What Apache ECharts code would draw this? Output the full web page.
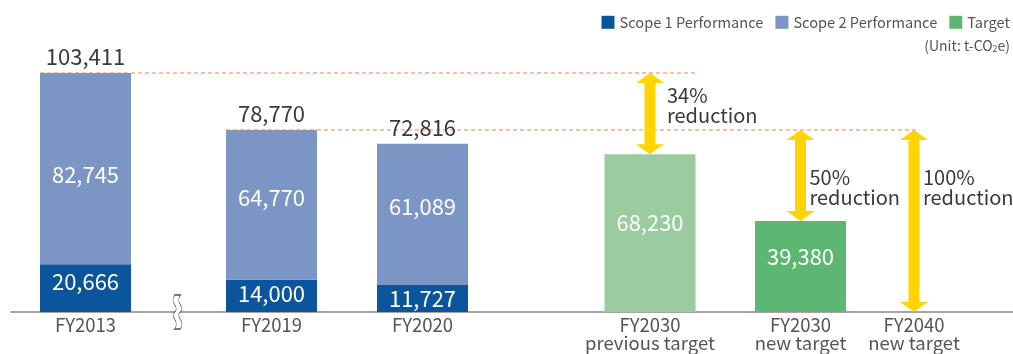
<!DOCTYPE html>
<html>
<head>
<meta charset="utf-8">
<style>
  html, body { margin: 0; padding: 0; background: #fff; }
  #chart { width: 1013px; height: 354px; }
</style>
<script src="https://cdn.jsdelivr.net/npm/echarts@6/dist/echarts.min.js"></script>
</head>
<body>
<div id="chart"></div>
<script>
// Category names (x axis) and emission values (t-CO2e)
const categories = ['FY2013', 'FY2019', 'FY2020', 'FY2030\nprevious target', 'FY2030\nnew target', 'FY2040\nnew target'];
const scope1 = [20666, 14000, 11727];
const scope2 = [82745, 64770, 61089];
const totals = [103411, 78770, 72816];
const targets = [68230, 39380];
// Reduction arrows: [category index, from value, to value]
const reductions = [[3, 103411, 68230], [4, 78770, 39380], [5, 78770, 0]];
const reductionText = ['34%\nreduction', '50%\nreduction', '100%\nreduction'];

// Layout: horizontal position of each category along the x axis, bar width, label offsets
const xPos = [74.5, 260.5, 411.5, 639, 789.5, 903];
const breakX = 166.5;
const barW = 91;
const reductionLabelOffset = [[17, 32], [9, 57], [9, 57]];
const scope1LabelDy = [-6, -2, 0];
const scope2LabelDy = [6, -7, -8];
const targetLabelDy = [-11, -10];

const C_S1 = '#0b559c', C_S2 = '#7b95c5', C_T_OLD = '#9acc9f', C_T_NEW = '#5db773';
const C_ARROW = '#ffd400', C_DASH = '#f2823f', C_TEXT = '#3a3a3a';
const FONT = '"Noto Sans CJK JP", "Noto Sans", sans-serif';
const fmt = v => v.toLocaleString('en-US');

const chart = echarts.init(document.getElementById('chart'));

// stacked segment: data item = [x, base value, top value, labelled value]
const segmentRenderer = (color, dyList) => (params, api) => {
  const x = api.value(0);
  const p0 = api.coord([x, api.value(1)]);
  const p1 = api.coord([x, api.value(2)]);
  const dy = dyList[params.dataIndex] || 0;
  return {
    type: 'group',
    children: [
      { type: 'rect', shape: { x: p0[0] - barW / 2, y: p1[1], width: barW, height: p0[1] - p1[1] }, style: { fill: color } },
      {
        type: 'text',
        style: {
          text: fmt(api.value(3)), x: p0[0], y: (p0[1] + p1[1]) / 2 + dy,
          fill: '#fff', font: '22px ' + FONT, align: 'center', verticalAlign: 'middle'
        }
      }
    ]
  };
};

const dashed = (from, x0, x1) => ({
  type: 'line', silent: true, symbol: 'none', z: 5,
  lineStyle: { color: C_DASH, width: 1, type: [4, 3], opacity: 1 },
  data: [[x0, from], [x1, from]]
});

chart.setOption({
  animation: false,
  textStyle: { fontFamily: FONT },
  title: {
    right: -2, top: 33,
    text: '(Unit: t-CO{sub|2}e)',
    textStyle: {
      fontFamily: FONT, fontSize: 14, fontWeight: 'normal', color: '#555',
      rich: { sub: { fontSize: 9, verticalAlign: 'bottom', padding: [6, 0, 0, 0], color: '#555', fontFamily: FONT } }
    }
  },
  legend: {
    right: -2, top: 10,
    icon: 'rect', itemWidth: 13, itemHeight: 13, itemGap: 12,
    textStyle: { fontSize: 14.6, color: '#555', fontFamily: FONT },
    data: ['Scope 1 Performance', 'Scope 2 Performance', 'Target']
  },
  grid: { left: 11, right: 0, top: 0, bottom: 42 },
  xAxis: {
    type: 'value', min: 0, max: 1002,
    splitLine: { show: false },
    axisTick: { show: false },
    axisLine: { show: true, lineStyle: { color: '#888', width: 1.5 } },
    axisLabel: {
      customValues: xPos,
      formatter: v => categories[xPos.indexOf(v)] || '',
      color: '#555', fontSize: 18.5, lineHeight: 18, margin: 4,
      verticalAlign: 'top'
    }
  },
  yAxis: {
    type: 'value', min: 0, max: 135000, show: false,
    splitLine: { show: false }
  },
  series: [
    {
      name: 'Scope 1 Performance', type: 'custom', clip: false,
      itemStyle: { color: C_S1 },
      renderItem: segmentRenderer(C_S1, scope1LabelDy),
      data: scope1.map((v, i) => [xPos[i], 0, v, v])
    },
    {
      name: 'Scope 2 Performance', type: 'custom', clip: false,
      itemStyle: { color: C_S2 },
      renderItem: segmentRenderer(C_S2, scope2LabelDy),
      data: scope2.map((v, i) => [xPos[i], scope1[i], scope1[i] + v, v])
    },
    {
      name: 'Target', type: 'custom', clip: false,
      itemStyle: { color: C_T_NEW },
      renderItem: (params, api) => segmentRenderer(params.dataIndex === 0 ? C_T_OLD : C_T_NEW, targetLabelDy)(params, api),
      data: targets.map((v, i) => [xPos[3 + i], 0, v, v])
    },
    {
      // totals above the performance bars
      type: 'scatter', silent: true, symbolSize: 0, z: 6,
      itemStyle: { opacity: 1 },
      label: { show: true, position: 'top', distance: 5, color: C_TEXT, fontSize: 22, formatter: p => fmt(p.value[1]) },
      data: totals.map((v, i) => [xPos[i], v])
    },
    dashed(totals[0], xPos[0] - barW / 2, xPos[3] + barW / 2),
    dashed(totals[1], xPos[1] - barW / 2, xPos[5] + 4),
    {
      // double-headed reduction arrows with their captions
      type: 'custom', silent: true, z: 7, clip: false,
      data: reductions.map((r, i) => [xPos[r[0]], r[1], r[2], i]),
      renderItem: (params, api) => {
        const x = api.value(0);
        const top = api.coord([x, api.value(1)]);
        const bot = api.coord([x, api.value(2)]);
        const idx = api.value(3);
        const cx = top[0], y0 = top[1], y1 = bot[1];
        const hw = 14, hh = 10, sw = 5.5;
        const pts = [
          [cx, y0], [cx + hw, y0 + hh], [cx + sw, y0 + hh], [cx + sw, y1 - hh], [cx + hw, y1 - hh],
          [cx, y1], [cx - hw, y1 - hh], [cx - sw, y1 - hh], [cx - sw, y0 + hh], [cx - hw, y0 + hh]
        ];
        const off = reductionLabelOffset[idx];
        return {
          type: 'group',
          children: [
            { type: 'polygon', shape: { points: pts }, style: { fill: C_ARROW } },
            {
              type: 'text',
              style: {
                text: reductionText[idx], x: cx + off[0], y: y0 + off[1],
                fill: C_TEXT, font: '20px ' + FONT, lineHeight: 20,
                verticalAlign: 'middle', align: 'left'
              }
            }
          ]
        };
      }
    },
    {
      // axis break mark between FY2013 and FY2019
      type: 'scatter', silent: true, z: 8,
      symbol: 'path://M4,0 C0,10 8,14 4,20 C0,26 8,30 4,40 L8,40 C12,30 4,26 8,20 C12,14 4,10 8,0 Z',
      symbolSize: [9, 34],
      itemStyle: { color: '#fff', borderColor: '#777', borderWidth: 1, opacity: 1 },
      data: [[breakX, 0]]
    }
  ]
});
</script>
</body>
</html>
